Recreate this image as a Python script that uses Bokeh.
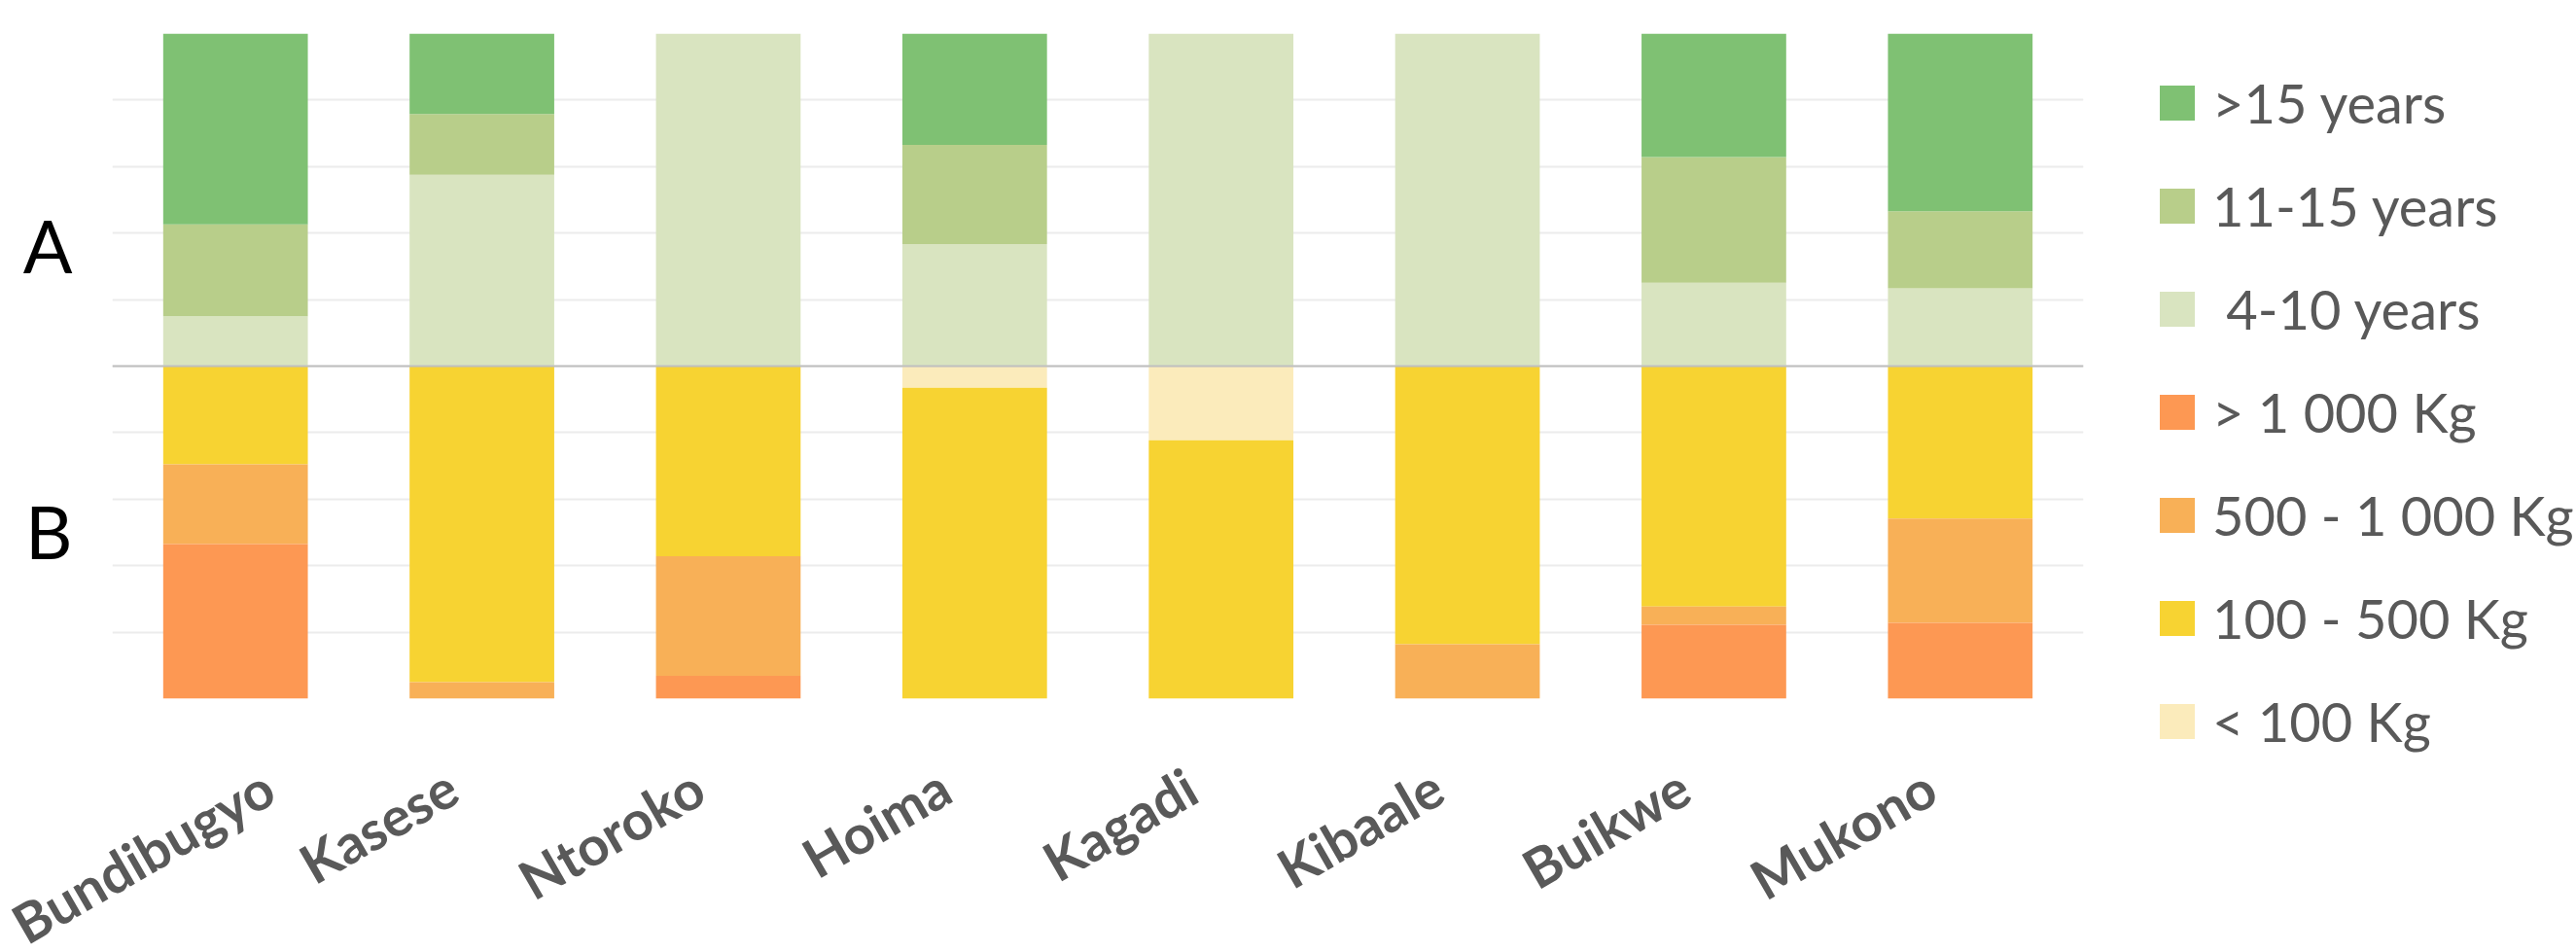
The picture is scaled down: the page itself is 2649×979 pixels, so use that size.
import math
from bokeh.plotting import figure
from bokeh.models import (ColumnDataSource, Range1d, FixedTicker, Legend, LegendItem, Span,
                          LinearAxis)
from bokeh.embed import file_html
from bokeh.resources import INLINE

# ---------------- data (percent of respondents) ----------------
districts = ["Bundibugyo", "Kasese", "Ntoroko", "Hoima", "Kagadi", "Kibaale", "Buikwe", "Mukono"]

# A: years of experience (stacked upward)
age_4_10 = [15.0, 57.5, 100.0, 36.7, 100.0, 100.0, 25.1, 23.4]
age_11_15 = [27.6, 18.3, 0.0, 29.8, 0.0, 0.0, 37.8, 23.2]
age_gt15 = [57.4, 24.2, 0.0, 33.5, 0.0, 0.0, 37.1, 53.4]

# B: production (stacked downward)
prod_lt100 = [0.0, 0.0, 0.0, 6.5, 22.3, 0.0, 0.0, 0.0]
prod_100_500 = [29.5, 95.0, 57.2, 93.5, 77.7, 83.6, 72.3, 45.8]
prod_500_1000 = [24.0, 5.0, 35.9, 0.0, 0.0, 16.4, 5.5, 31.4]
prod_gt1000 = [46.5, 0.0, 6.9, 0.0, 0.0, 0.0, 22.2, 22.8]

age_labels = [" 4-10 years", "11-15 years", ">15 years"]
prod_labels = ["< 100 Kg", "100 - 500 Kg", "500 - 1 000 Kg", "> 1 000 Kg"]

section_labels = ["A", "B"]
section_label_pos = [36.5, -49.5]
grid_ticks = [-100, -80, -60, -40, -20, 0, 20, 40, 60, 80, 100]

age_colors = ["#d9e4c0", "#b8ce8a", "#7fc173"]
prod_colors = ["#fbebbb", "#f7d332", "#f8b057", "#fd9853"]

n = len(districts)
xpos = [i + 0.5 for i in range(n)]  # slot centre of each district

src = ColumnDataSource(dict(
    x=xpos, district=districts,
    a1=age_4_10, a2=age_11_15, a3=age_gt15,
    b1=[-v for v in prod_lt100], b2=[-v for v in prod_100_500],
    b3=[-v for v in prod_500_1000], b4=[-v for v in prod_gt1000],
))

p = figure(x_range=Range1d(0, n), y_range=Range1d(-100, 100),
           frame_width=2027, frame_height=684,
           min_border_left=115, min_border_top=34, min_border_right=507, min_border_bottom=261,
           output_backend="svg", toolbar_location=None)
p.outline_line_color = None
p.background_fill_color = "white"

ra = p.vbar_stack(["a1", "a2", "a3"], x="x", width=0.587, color=age_colors,
                  line_color=None, source=src)
rb = p.vbar_stack(["b1", "b2", "b3", "b4"], x="x", width=0.587, color=prod_colors,
                  line_color=None, source=src)

p.add_layout(Span(location=0, dimension="width", line_color="#bfbfbf", line_width=2))

p.xgrid.grid_line_color = None
p.ygrid.ticker = FixedTicker(ticks=grid_ticks)
p.ygrid.grid_line_color = "#ececec"
p.ygrid.grid_line_width = 2
p.ygrid.level = "underlay"

# y axis used for the section letters
p.yaxis.ticker = FixedTicker(ticks=section_label_pos)
p.yaxis.major_label_overrides = {section_label_pos[0]: section_labels[0],
                                 section_label_pos[1]: section_labels[1]}
p.yaxis.axis_line_color = None
p.yaxis.major_tick_line_color = None
p.yaxis.minor_tick_line_color = None
p.yaxis.major_tick_out = 0
p.yaxis.major_tick_in = 0
p.yaxis.major_label_standoff = 41
p.yaxis.major_label_text_font = "Lato"
p.yaxis.major_label_text_font_size = "75px"
p.yaxis.major_label_text_color = "black"

# main x axis hidden; district names on a slightly offset axis (labels end left of slot centre)
p.xaxis.visible = False
p.extra_x_ranges = {"names": Range1d(0.12, n + 0.12)}
xax = LinearAxis(x_range_name="names", ticker=FixedTicker(ticks=xpos),
                 major_label_overrides={t: d for t, d in zip(xpos, districts)})
xax.axis_line_color = None
xax.major_tick_line_color = None
xax.minor_tick_line_color = None
xax.major_tick_out = 0
xax.major_tick_in = 0
xax.major_label_orientation = math.pi / 6
xax.major_label_standoff = 86
xax.major_label_text_font = "Lato"
xax.major_label_text_font_style = "bold"
xax.major_label_text_font_size = "56px"
xax.major_label_text_color = "#595959"
p.add_layout(xax, "below")

items = [LegendItem(label=age_labels[2], renderers=[ra[2]]),
         LegendItem(label=age_labels[1], renderers=[ra[1]]),
         LegendItem(label=age_labels[0], renderers=[ra[0]]),
         LegendItem(label=prod_labels[3], renderers=[rb[3]]),
         LegendItem(label=prod_labels[2], renderers=[rb[2]]),
         LegendItem(label=prod_labels[1], renderers=[rb[1]]),
         LegendItem(label=prod_labels[0], renderers=[rb[0]])]

legend = Legend(items=items, location=(74, -57), orientation="vertical",
                padding=0, margin=0, spacing=39,
                glyph_width=45, glyph_height=45, label_height=45, label_standoff=14,
                border_line_color=None, background_fill_alpha=0,
                label_text_font="Lato", label_text_font_size="56px",
                label_text_color="#595959")
p.add_layout(legend, "right")

open("out.html", "w").write(file_html(p, INLINE))
